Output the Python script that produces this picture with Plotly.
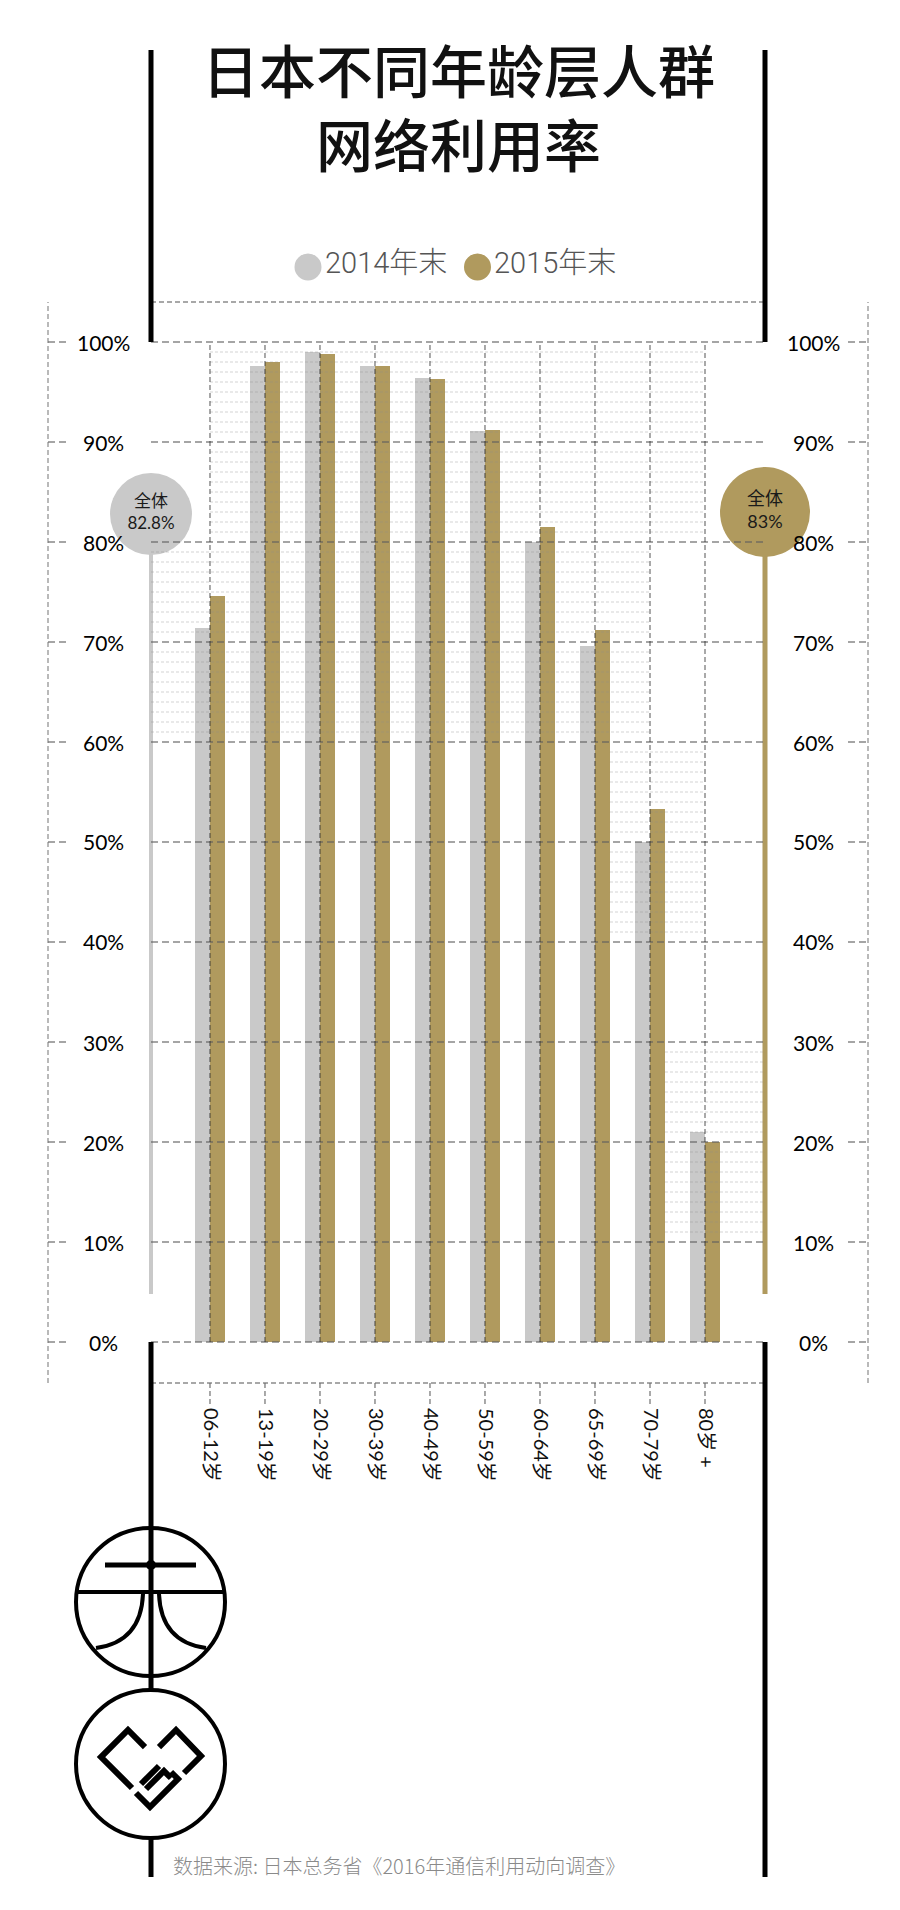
import plotly.graph_objects as go

# ---------------- data ----------------
categories = ["06-12岁", "13-19岁", "20-29岁", "30-39岁", "40-49岁",
              "50-59岁", "60-64岁", "65-69岁", "70-79岁", "80岁 +"]
rate_2014 = [71.4, 97.6, 99.0, 97.6, 96.4, 91.1, 80.0, 69.6, 50.0, 21.0]
rate_2015 = [74.6, 98.0, 98.8, 97.6, 96.3, 91.2, 81.5, 71.2, 53.3, 20.0]
series_names = ["2014年末", "2015年末"]
overall_2014 = 82.8
overall_2015 = 83.0
overall_labels = ["全体<br>82.8%", "全体<br>83%"]
y_ticks = [0, 10, 20, 30, 40, 50, 60, 70, 80, 90, 100]
y_tick_labels = [f"{v}%" for v in y_ticks]

title_text = "日本不同年龄层人群<br>网络利用率"
source_text = "数据来源: 日本总务省《2016年通信利用动向调查》"

# ---------------- style / layout constants ----------------
W, H = 900, 1910
L, R, T, B = 143, 757, 294, 1375          # plot area in pixels
XMIN, XMAX = -1.0727, 10.0909
YMIN, YMAX = -4.1, 104.0
GRAY = "#c9c9c9"
GOLD = "#b09a5e"
BAR_W = 0.2727
LINE_BASE = 4.8   # where the overall stems end


def xp(px):
    return (px - L) / (R - L)


def yp(py):
    return (B - py) / (B - T)


def xv(v):
    return (v - XMIN) / (XMAX - XMIN)


def yv(v):
    return (v - YMIN) / (YMAX - YMIN)


def pp(x, y):
    return f"{xp(x):.5f},{yp(y):.5f}"


fig = go.Figure()

fig.add_trace(go.Bar(x=list(range(len(categories))), y=rate_2014, name=series_names[0],
                     width=BAR_W, offset=-BAR_W, marker=dict(color=GRAY, line=dict(width=0)),
                     showlegend=False, hoverinfo="skip"))
fig.add_trace(go.Bar(x=list(range(len(categories))), y=rate_2015, name=series_names[1],
                     width=BAR_W, offset=0, marker=dict(color=GOLD, line=dict(width=0)),
                     showlegend=False, hoverinfo="skip"))

# overall circles
fig.add_trace(go.Scatter(x=[XMIN], y=[overall_2014], mode="markers+text",
                         marker=dict(size=82, color=GRAY, line=dict(width=0)),
                         text=[overall_labels[0]], textposition="middle center",
                         textfont=dict(family="Lato, Noto Sans CJK SC", size=17, color="#1a1a1a"),
                         cliponaxis=False, showlegend=False, hoverinfo="skip"))
fig.add_trace(go.Scatter(x=[XMAX], y=[overall_2015], mode="markers+text",
                         marker=dict(size=90, color=GOLD, line=dict(width=0)),
                         text=[overall_labels[1]], textposition="middle center",
                         textfont=dict(family="Lato, Noto Sans CJK SC", size=18, color="#1a1a1a"),
                         cliponaxis=False, showlegend=False, hoverinfo="skip"))

shapes = []


def line(x0, y0, x1, y1, color, width, dash="solid", layer="above"):
    shapes.append(dict(type="line", xref="paper", yref="paper", x0=x0, y0=y0, x1=x1, y1=y1,
                       line=dict(color=color, width=width, dash=dash), layer=layer))


# minor grid (1% steps, decorative stepped bands)
minor_regions = [(0, 9, 80, 100), (XMIN, 8, 60, 80), (7 + BAR_W, 9, 40, 60), (8 + BAR_W, XMAX, 10, 30)]
for (a, b, lo, hi) in minor_regions:
    for v in range(lo + 1, hi):
        if v % 10 == 0:
            continue
        line(xv(a), yv(v), xv(b), yv(v), "rgba(140,140,140,0.38)", 1, "3px,2px")

# major horizontal grid + side stubs
for v in y_ticks:
    line(0, yv(v), 1, yv(v), "rgba(95,95,95,0.75)", 1.3, "7px,4px")
    line(xp(40), yv(v), xp(60), yv(v), "rgba(95,95,95,0.75)", 1.3, "7px,4px")
    line(xp(840), yv(v), xp(860), yv(v), "rgba(95,95,95,0.75)", 1.3, "7px,4px")

# vertical category lines
for i in range(len(categories)):
    line(xv(i), yv(0), xv(i), yv(100), "rgba(40,40,40,0.8)", 1, "5px,3px")
    line(xv(i), yp(B), xv(i), yp(1397), "rgba(40,40,40,0.8)", 1, "5px,3px")

# frame dashed lines
line(0, 1, 1, 1, "rgba(110,110,110,0.8)", 1.3, "5px,3px")
line(0, 0, 1, 0, "rgba(110,110,110,0.8)", 1.3, "5px,3px")
line(xp(40), 0, xp(40), 1, "rgba(110,110,110,0.8)", 1.2, "5px,3px")
line(xp(860), 0, xp(860), 1, "rgba(110,110,110,0.8)", 1.2, "5px,3px")

# overall stems
line(0, yv(LINE_BASE), 0, yv(overall_2014), GRAY, 4, layer="below")
line(1, yv(LINE_BASE), 1, yv(overall_2015), GOLD, 5, layer="below")

# black frame lines
line(0, yp(42), 0, yv(100), "black", 5)
line(1, yp(42), 1, yv(100), "black", 5)
line(0, yv(0), 0, yp(1682), "black", 5)
line(0, yp(1830), 0, yp(1869), "black", 5)
line(1, yv(0), 1, yp(1869), "black", 5)

# legend circles
for cx, col in [(300, GRAY), (469.5, GOLD)]:
    shapes.append(dict(type="circle", xref="paper", yref="paper", xsizemode="pixel", ysizemode="pixel",
                       xanchor=xp(cx), yanchor=yp(259), x0=-13.5, x1=13.5, y0=-13.5, y1=13.5,
                       fillcolor=col, line=dict(width=0), layer="above"))

# logo 1
shapes.append(dict(type="circle", xref="paper", yref="paper", x0=xp(68), x1=xp(217), y0=yp(1668), y1=yp(1520),
                   line=dict(color="black", width=4), fillcolor="rgba(0,0,0,0)", layer="above"))
line(xp(97), yp(1557), xp(188), yp(1557), "black", 5)
line(xp(69), yp(1584), xp(216), yp(1584), "black", 4)
shapes.append(dict(type="circle", xref="paper", yref="paper", xsizemode="pixel", ysizemode="pixel",
                   xanchor=xp(143), yanchor=yp(1557), x0=-5, x1=5, y0=-5, y1=5,
                   fillcolor="black", line=dict(width=0), layer="above"))
shapes.append(dict(type="path", xref="paper", yref="paper",
                   path=f"M {pp(135,1586)} Q {pp(133,1634)} {pp(88,1640)}",
                   line=dict(color="black", width=4), layer="above"))
shapes.append(dict(type="path", xref="paper", yref="paper",
                   path=f"M {pp(151,1586)} Q {pp(153,1634)} {pp(198,1640)}",
                   line=dict(color="black", width=4), layer="above"))

# logo 2
shapes.append(dict(type="circle", xref="paper", yref="paper", x0=xp(68), x1=xp(217), y0=yp(1830), y1=yp(1682),
                   line=dict(color="black", width=4), fillcolor="rgba(0,0,0,0)", layer="above"))
for pts in [[(137, 1739), (120, 1722), (93, 1749), (124, 1780)],
            [(151, 1739), (168, 1722), (193, 1748), (176, 1765)],
            [(128, 1785), (142, 1799), (170, 1771), (163, 1764)],
            [(138, 1781), (156, 1763), (163, 1770)],
            [(133, 1776), (151, 1758)]]:
    shapes.append(dict(type="path", xref="paper", yref="paper",
                       path="M " + " L ".join(pp(*p) for p in pts),
                       line=dict(color="black", width=6), layer="above"))

annotations = []
# y tick labels
for v, lab in zip(y_ticks, y_tick_labels):
    for xpx in (95, 805):
        annotations.append(dict(x=xp(xpx), y=yv(v), xref="paper", yref="paper", text=lab,
                                showarrow=False, xanchor="center", yanchor="middle",
                                font=dict(family="Lato", size=21, color="#000000")))

# title
annotations.append(dict(x=xp(450), y=yp(97), xref="paper", yref="paper", text=title_text, showarrow=False,
                        xanchor="center", yanchor="middle",
                        font=dict(family="Noto Sans CJK SC", size=57, color="#111111", weight=500)))

# legend texts
for txt, xpx in zip(series_names, [315, 484]):
    annotations.append(dict(x=xp(xpx), y=yp(255), xref="paper", yref="paper", text=txt, showarrow=False,
                            xanchor="left", yanchor="middle",
                            font=dict(family="Roboto, Noto Sans CJK SC", size=29, color="#555555", weight=300)))

# source
annotations.append(dict(x=xp(163), y=yp(1858), xref="paper", yref="paper", text=source_text, showarrow=False,
                        xanchor="left", yanchor="middle",
                        font=dict(family="Noto Sans CJK SC", size=20, color="#8a8a8a", weight=300)))

fig.update_layout(
    width=W, height=H,
    margin=dict(l=L, r=W - R, t=T, b=H - B, pad=0),
    paper_bgcolor="white", plot_bgcolor="white",
    showlegend=False,
    shapes=shapes, annotations=annotations,
    xaxis=dict(range=[XMIN, XMAX], tickvals=list(range(len(categories))), ticktext=categories,
               tickangle=90, showgrid=False, zeroline=False, showline=False, ticks="",
               ticklabelstandoff=24,
               tickfont=dict(family="Lato, Noto Sans CJK SC", size=20, color="#111111"), fixedrange=True),
    yaxis=dict(range=[YMIN, YMAX], showticklabels=False, showgrid=False, zeroline=False,
               showline=False, ticks="", fixedrange=True),
    bargap=0,
)

fig.write_html("out.html")
